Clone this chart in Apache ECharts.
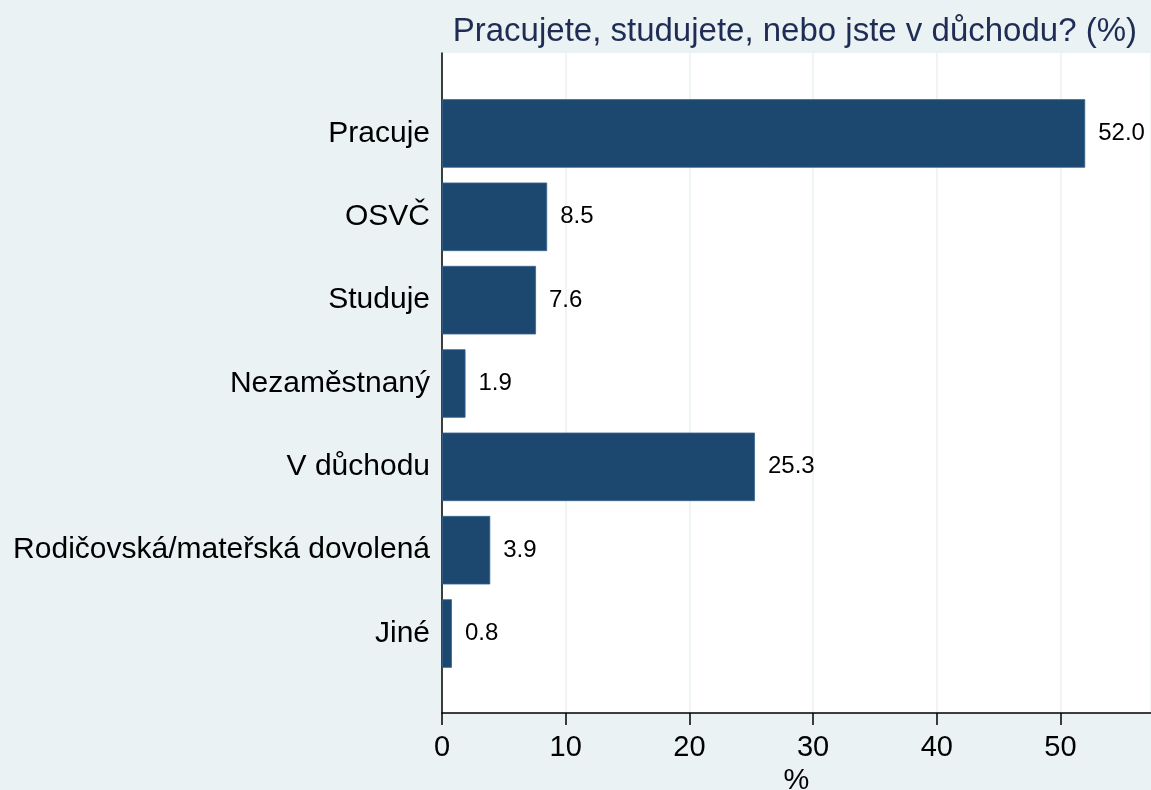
<!DOCTYPE html>
<html>
<head>
<meta charset="utf-8">
<title>Pracujete, studujete, nebo jste v důchodu?</title>
<script src="https://cdn.jsdelivr.net/npm/echarts@6/dist/echarts.min.js"></script>
<style>
  html, body { margin: 0; padding: 0; background: #EAF2F3; }
  #chart { width: 1151px; height: 790px; }
</style>
</head>
<body>
<div id="chart"></div>
<script>
const categories = ['Pracuje', 'OSVČ', 'Studuje', 'Nezaměstnaný', 'V důchodu', 'Rodičovská/mateřská dovolená', 'Jiné'];
const shares = [52.0, 8.5, 7.6, 1.9, 25.3, 3.9, 0.8];
const xTicks = [0, 10, 20, 30, 40, 50];

const font = 'Liberation Sans, Arial, sans-serif';
const xMax = 57.32;

const chart = echarts.init(document.getElementById('chart'));
chart.setOption({
  backgroundColor: '#EAF2F3',
  animation: false,
  textStyle: { fontFamily: font },
  title: {
    text: 'Pracujete, studujete, nebo jste v důchodu? (%)',
    right: 9,
    top: 10,
    textStyle: { fontSize: 33, fontWeight: 'normal', color: '#1F2D55', fontFamily: font }
  },
  grid: [
    // outer plot area: white background, gridlines and axes
    { left: 442, right: 0, top: 53, height: 660, outerBoundsMode: 'none', containLabel: false,
      show: true, backgroundColor: '#fff', borderWidth: 0 },
    // inner area holding the bars
    { left: 442, right: 0, top: 91.8, height: 583.4, outerBoundsMode: 'none', containLabel: false }
  ],
  xAxis: [
    {
      gridIndex: 0,
      type: 'value',
      min: 0,
      max: xMax,
      interval: 10,
      name: '%',
      nameLocation: 'middle',
      nameGap: 50,
      nameTextStyle: { fontSize: 29, color: '#000', fontFamily: font },
      axisLine: { show: true, lineStyle: { color: '#000', width: 1.5 } },
      axisTick: { show: true, length: 12, lineStyle: { color: '#000', width: 1.5 } },
      axisLabel: {
        fontSize: 29,
        color: '#000',
        margin: 20,
        showMaxLabel: false,
        formatter: v => (xTicks.includes(v) ? String(v) : '')
      },
      splitLine: { show: true, lineStyle: { color: '#EAF2F3', width: 1.5 } }
    },
    { gridIndex: 1, type: 'value', min: 0, max: xMax, show: false }
  ],
  yAxis: [
    {
      gridIndex: 0,
      type: 'value',
      min: 0,
      max: 1,
      axisLine: { show: true, lineStyle: { color: '#000', width: 1.5 } },
      axisTick: { show: false },
      axisLabel: { show: false },
      splitLine: { show: false }
    },
    {
      gridIndex: 1,
      type: 'category',
      inverse: true,
      data: categories,
      axisLine: { show: false },
      axisTick: { show: false },
      axisLabel: { fontSize: 30, color: '#000', margin: 12, fontFamily: font },
      splitLine: { show: false }
    }
  ],
  series: [
    {
      type: 'bar',
      xAxisIndex: 1,
      yAxisIndex: 1,
      data: shares,
      barWidth: 68.5,
      itemStyle: { color: '#1C4870', borderColor: '#3A668E', borderWidth: 0.8 },
      label: {
        show: true,
        position: 'right',
        distance: 13,
        fontSize: 24,
        color: '#000',
        fontFamily: font,
        formatter: p => p.value.toFixed(1)
      }
    }
  ]
});
</script>
</body>
</html>
